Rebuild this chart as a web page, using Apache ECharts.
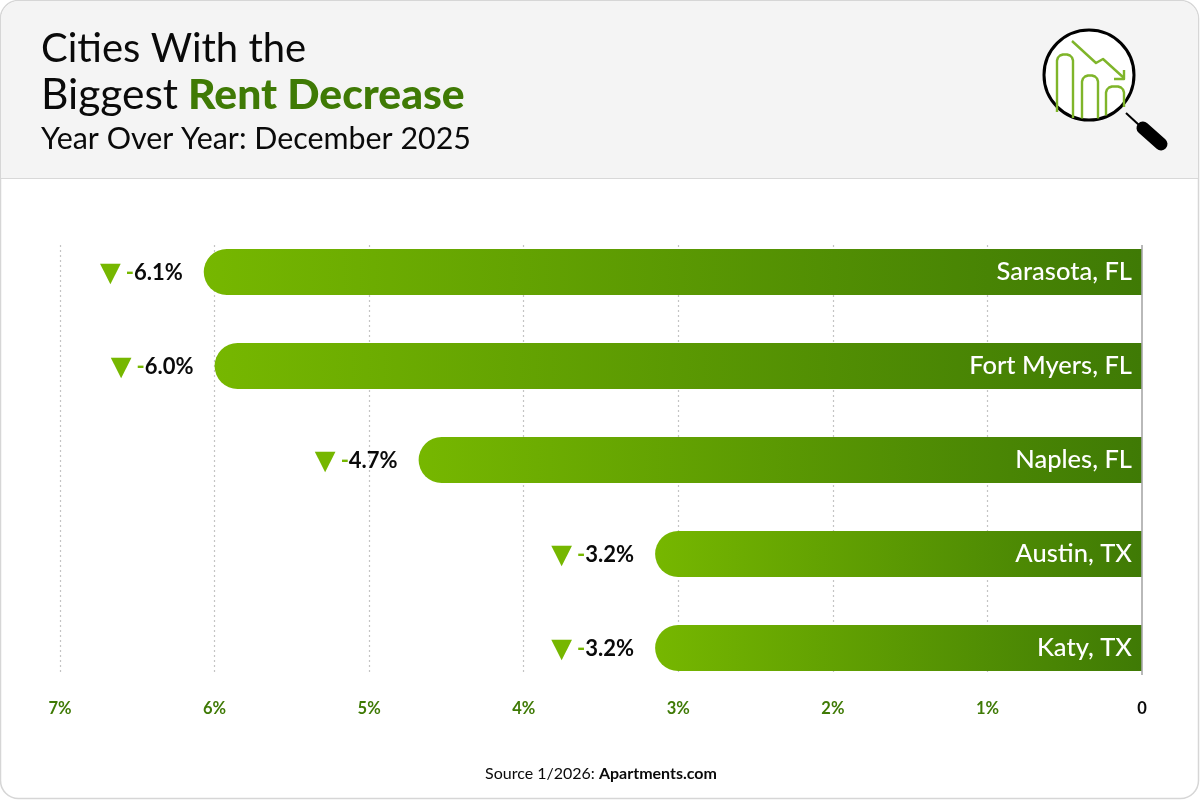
<!DOCTYPE html>
<html>
<head>
<meta charset="utf-8">
<style>html,body{margin:0;padding:0;background:#fff}#c{width:1200px;height:800px}</style>
<script src="https://cdn.jsdelivr.net/npm/echarts@6/dist/echarts.min.js"></script>
</head>
<body>
<div id="c"></div>
<script>
const cities = ['Sarasota, FL','Fort Myers, FL','Naples, FL','Austin, TX','Katy, TX'];
const decreases = [6.07,6.0,4.68,3.15,3.15];
const labelTexts = ['6.1%','6.0%','4.7%','3.2%','3.2%'];
const gridTicks = [1,2,3,4,5,6,7];
const FONT = 'Lato';
const G_DARK = '#3f7a05', G_LIGHT = '#76b700';

const chart = echarts.init(document.getElementById('c'));
const tStyle = {fontFamily:FONT,color:'#0a0a0a'};
const roundedBar = (x1,x2,top,bl,br) => [[x1,bl],[x1,top+6],[x1+1,top+3],[x1+3,top+1],[x1+6,top],[x2-6,top],[x2-3,top+1],[x2-1,top+3],[x2,top+6],[x2,br]];
chart.setOption({
  animation:false,
  backgroundColor:'#fff',
  textStyle:{fontFamily:FONT},
  title:[
    {left:41,top:29,padding:0,text:'Cities With the',textStyle:{...tStyle,fontSize:40,fontWeight:400}},
    {left:41,top:74,padding:0,text:'{a|Biggest}{g|Rent Decrease}',textStyle:{...tStyle,fontSize:40,fontWeight:400,
      rich:{a:{fontFamily:FONT,fontSize:42.5,fontWeight:400,color:'#0a0a0a',padding:[0,10,0,0]},g:{fontFamily:FONT,fontSize:42.6,fontWeight:900,color:G_DARK}}}},
    {left:41,top:124,padding:0,text:'Year Over Year: December 2025',textStyle:{...tStyle,fontSize:30.4,fontWeight:400}},
    {left:601,textAlign:'center',top:766,padding:0,text:'Source 1/2026: {b|Apartments.com}',textStyle:{...tStyle,fontSize:16,fontWeight:400,
      rich:{b:{fontFamily:FONT,fontSize:16,fontWeight:700,color:'#0a0a0a'}}}}
  ],
  grid:{left:60,width:1082,top:225,height:470},
  xAxis:{type:'value',inverse:true,min:0,max:7,interval:1,
    axisLine:{show:false},axisTick:{show:false},splitLine:{show:false},
    axisLabel:{margin:5,fontFamily:FONT,fontSize:16.5,fontWeight:700,
      formatter:v=>v===0?'{z|0}':'{p|'+v+'%}',
      rich:{z:{color:'#0a0a0a',fontFamily:FONT,fontSize:16.5,fontWeight:700},p:{color:G_DARK,fontFamily:FONT,fontSize:16.5,fontWeight:700}}}},
  yAxis:{type:'category',inverse:true,position:'right',data:cities,z:4,
    axisLine:{show:false},axisTick:{show:false},splitLine:{show:false},
    axisLabel:{inside:true,margin:10,color:'#fff',fontFamily:FONT,fontSize:25.5,fontWeight:500}},
  series:[
    {type:'line',data:[],silent:true,z:1,
      markLine:{silent:true,symbol:'none',z:1,label:{show:false},animation:false,
        lineStyle:{color:'#c4c4c4',width:1.2,type:[2,3]},
        data:gridTicks.map(v=>[{xAxis:v,y:245},{xAxis:v,y:675}])}},
    {type:'bar',data:decreases,barWidth:46,z:2,silent:true,
      itemStyle:{borderRadius:[23,0,0,23],
        color:new echarts.graphic.LinearGradient(0,0,1,0,[{offset:0,color:G_LIGHT},{offset:1,color:G_DARK}])},
      label:{show:true,position:'left',distance:21,offset:[0,1],
        formatter:p=>'{t|▼} {d|-}{n|'+labelTexts[p.dataIndex]+'}',
        rich:{t:{fontFamily:'DejaVu Sans',fontSize:27,lineHeight:27,color:G_LIGHT,padding:[2,2,0,0]},
          d:{fontFamily:FONT,fontSize:22,fontWeight:700,color:G_LIGHT},
          n:{fontFamily:FONT,fontSize:22,fontWeight:700,color:'#0a0a0a'}}},
      markLine:{silent:true,symbol:'none',z:3,label:{show:false},animation:false,
        lineStyle:{color:'#a8a8a8',width:1.6,type:'solid'},
        data:[[{xAxis:0,y:245},{xAxis:0,y:675}]]}}
  ],
  graphic:[
    {type:'rect',z:-10,shape:{x:0.5,y:0.5,width:1198,height:798,r:18},style:{fill:'#fff',stroke:'#d6d6d6',lineWidth:1.5},silent:true},
    {type:'rect',z:-9,shape:{x:1,y:1,width:1197,height:177,r:[18,18,0,0]},style:{fill:'#f4f4f4'},silent:true},
    {type:'rect',z:-8,shape:{x:1,y:178,width:1197,height:1},style:{fill:'#d8d8d8'},silent:true},
    {type:'circle',z:-7,shape:{cx:1089,cy:75,r:45},style:{fill:'#fff',stroke:'#000',lineWidth:3},silent:true},
    ...[
      roundedBar(1057,1073,54.5,112,118),
      roundedBar(1082,1098,75.5,118.5,118.5),
      roundedBar(1106,1124,86.5,115.5,107),
      [[1072,41],[1096,63],[1103,59],[1124,78]],
      [[1124,70],[1124,79],[1114,79]]
    ].map(p=>({type:'polyline',z:-6,silent:true,shape:{points:p},style:{fill:null,stroke:'#7fb52a',lineWidth:2.4,lineJoin:'round'}})),
    {type:'line',z:-6,silent:true,shape:{x1:1126,y1:113,x2:1139,y2:125},style:{stroke:'#000',lineWidth:2}},
    {type:'line',z:-6,silent:true,shape:{x1:1143,y1:128,x2:1161,y2:144},style:{stroke:'#000',lineWidth:13,lineCap:'round'}}
  ]
});
</script>
</body>
</html>
